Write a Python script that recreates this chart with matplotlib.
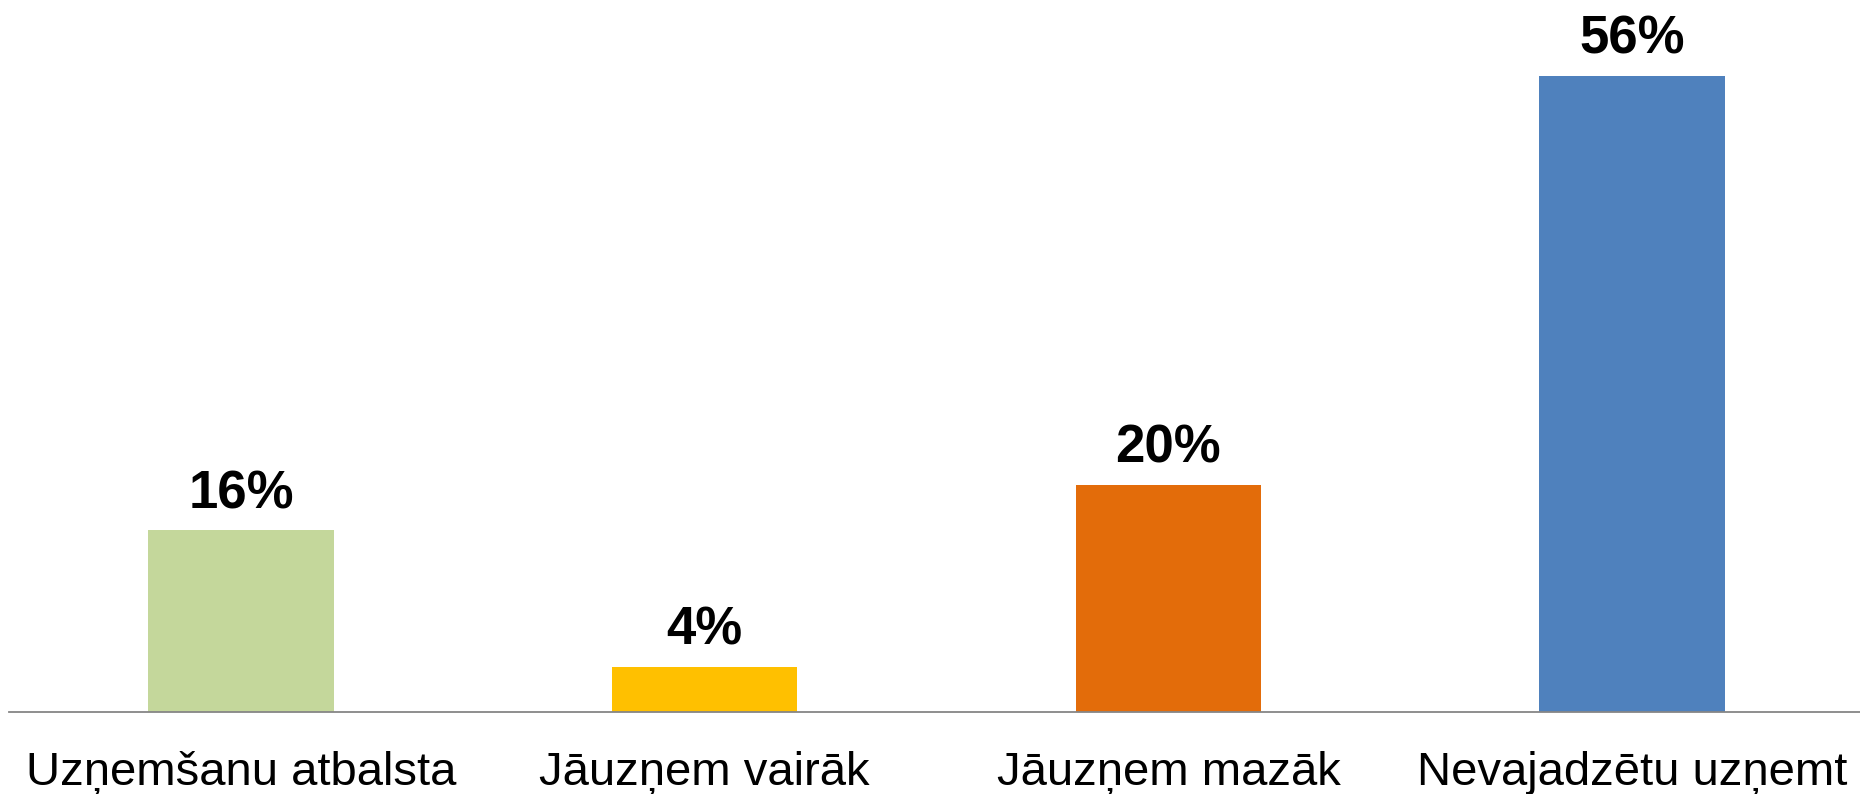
import numpy as np
import matplotlib
matplotlib.use("Agg")
import matplotlib.pyplot as plt

# Data
categories = ["Uzņemšanu atbalsta", "Jāuzņem vairāk", "Jāuzņem mazāk", "Nevajadzētu uzņemt"]
values = [16, 4, 20, 56]
bar_colors = ["#C4D79B", "#FFC000", "#E36C0A", "#4F81BD"]

plt.rcParams['font.family'] = ['Liberation Sans', 'DejaVu Sans']

dpi = 100
fig = plt.figure(figsize=(18.6, 7.94), dpi=dpi)
ax = fig.add_axes([9/1860, 82/794, 1855/1860, 681.5/794])

x = np.arange(len(categories))
bars = ax.bar(x, values, width=0.4, color=bar_colors, zorder=2)

for xi, v in zip(x, values):
    ax.annotate("%d%%" % v, (xi, v), xytext=(0, 16), textcoords="offset points",
                ha="center", va="baseline", fontsize=38, fontweight="bold")

ax.set_xlim(-0.5, len(categories) - 0.5)
ax.set_ylim(0, 60)
ax.set_xticks(x)
ax.set_xticklabels(categories, fontsize=34)
ax.tick_params(axis="x", length=0, pad=28)
ax.set_yticks([])
for side in ["top", "right", "left"]:
    ax.spines[side].set_visible(False)
ax.spines["bottom"].set_color("#868686")
ax.spines["bottom"].set_linewidth(1.3)

fig.savefig("out.png", dpi=dpi)
